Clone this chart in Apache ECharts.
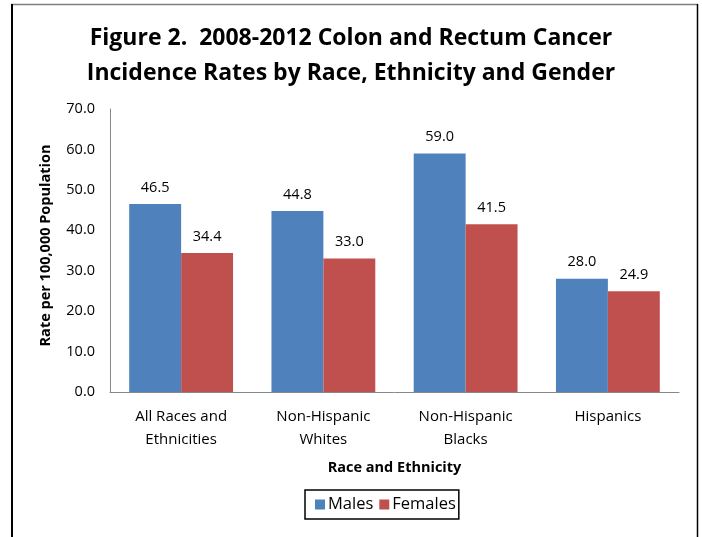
<!DOCTYPE html>
<html><head><meta charset="utf-8">
<script src="https://cdn.jsdelivr.net/npm/echarts@6/dist/echarts.min.js"></script>
<style>html,body{margin:0;padding:0;background:#fff}#c{width:702px;height:537px}</style>
</head><body><div id="c"></div>
<script>
const categories = ['All Races and\nEthnicities', 'Non-Hispanic\nWhites', 'Non-Hispanic\nBlacks', 'Hispanics'];
const males = [46.5, 44.8, 59.0, 28.0];
const females = [34.4, 33.0, 41.5, 24.9];
const titleLines = 'Figure 2.  2008-2012 Colon and Rectum Cancer\nIncidence Rates by Race, Ethnicity and Gender';
const font = 'Open Sans';
const chart = echarts.init(document.getElementById('c'), null, {renderer: 'canvas'});
chart.setOption({
  animation: false,
  backgroundColor: '#fff',
  graphic: [
    {type: 'line', shape: {x1: 11, y1: 4.5, x2: 698, y2: 4.5}, style: {stroke: '#7f7f7f', lineWidth: 1.5}},
    {type: 'line', shape: {x1: 12, y1: 4, x2: 12, y2: 537}, style: {stroke: '#000', lineWidth: 2}},
    {type: 'line', shape: {x1: 697.5, y1: 4, x2: 697.5, y2: 537}, style: {stroke: '#000', lineWidth: 1.5}}
  ],
  title: {
    text: titleLines, left: 'center', top: 16,
    textStyle: {fontFamily: font, fontSize: 23, fontWeight: 'bold', color: '#000', lineHeight: 35, padding: [0, 0, 0, 8]}
  },
  grid: {left: 110, right: 23, top: 109, bottom: 145, containLabel: false},
  legend: {
    data: ['Males', 'Females'], bottom: 18, left: 305,
    borderColor: '#000', borderWidth: 1.5, padding: [6, 3, 6, 10],
    itemWidth: 10, itemHeight: 10, itemGap: 6, icon: 'rect',
    textStyle: {fontFamily: font, fontSize: 16.5, color: '#000', padding: [0, 0, 0, -2]}
  },
  xAxis: {
    type: 'category', data: categories,
    name: 'Race and Ethnicity', nameLocation: 'middle', nameGap: 68,
    nameTextStyle: {fontFamily: font, fontSize: 14.5, fontWeight: 'bold', color: '#000'},
    axisLine: {lineStyle: {color: '#888', width: 1}},
    axisTick: {show: false},
    axisLabel: {fontFamily: font, fontSize: 15, color: '#000', margin: 13, lineHeight: 23, interval: 0}
  },
  yAxis: {
    type: 'value', min: 0, max: 70, interval: 10,
    name: 'Rate per 100,000 Population', nameLocation: 'middle', nameGap: 57, nameRotate: 90,
    nameTextStyle: {fontFamily: font, fontSize: 14.5, fontWeight: 'bold', color: '#000', padding: [0, 0, 0, 10]},
    axisLine: {show: true, lineStyle: {color: '#888', width: 1}},
    axisTick: {show: false},
    splitLine: {show: false},
    axisLabel: {fontFamily: font, fontSize: 14.5, color: '#000', margin: 15, formatter: v => v.toFixed(1)}
  },
  series: [
    {name: 'Males', type: 'bar', data: males, barGap: '0%', barCategoryGap: '27%',
     itemStyle: {color: '#4F81BD'},
     label: {show: true, position: 'top', distance: 9, fontFamily: font, fontSize: 14.5, color: '#000', formatter: p => p.value.toFixed(1)}},
    {name: 'Females', type: 'bar', data: females, barGap: '0%', barCategoryGap: '27%',
     itemStyle: {color: '#C0504D'},
     label: {show: true, position: 'top', distance: 9, fontFamily: font, fontSize: 14.5, color: '#000', formatter: p => p.value.toFixed(1)}}
  ]
});
</script></body></html>
